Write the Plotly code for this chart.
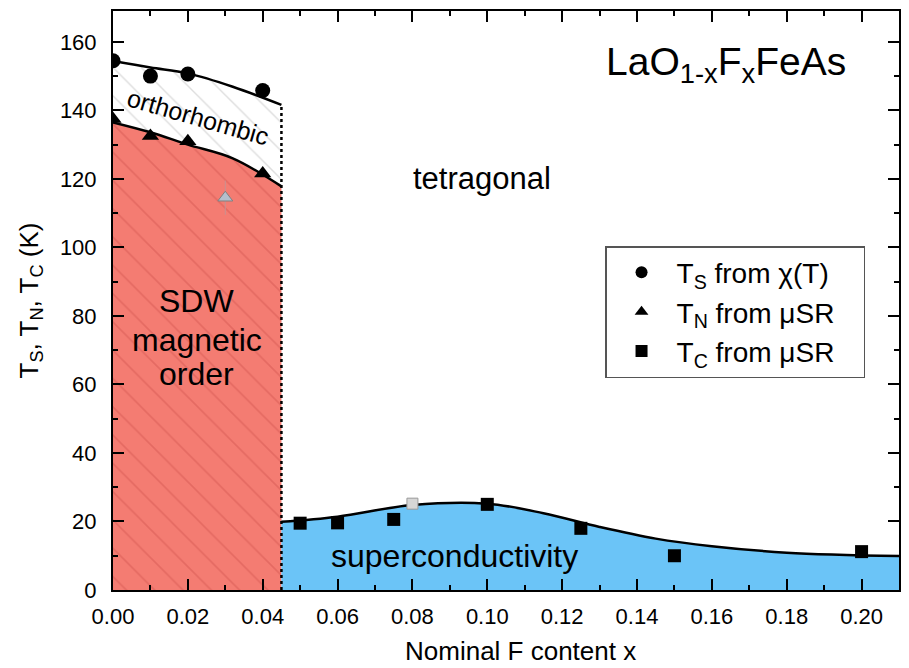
import plotly.graph_objects as go

# ---------------- data ----------------
# Structural transition T_S from chi(T)
ts_x = [0.00, 0.01, 0.02, 0.04]
ts_y = [154.5, 150.0, 150.6, 145.8]
# Magnetic transition T_N from muSR
tn_x = [0.00, 0.01, 0.02, 0.04]
tn_y = [137.5, 132.5, 131.0, 121.6]
# Superconducting T_C from muSR
tc_x = [0.05, 0.06, 0.075, 0.10, 0.125, 0.15, 0.20]
tc_y = [19.5, 19.6, 20.6, 25.0, 18.0, 10.0, 11.2]
# grey (secondary) points
grey_tn_x = [0.03]
grey_tn_y = [114.5]
grey_tn_err = [5.0]
grey_tc_x = [0.08]
grey_tc_y = [25.2]

# phase boundary guide lines
ts_line_x = [0.000, 0.010, 0.020, 0.032, 0.045]
ts_line_y = [154.4, 152.5, 150.8, 146.9, 141.6]
tn_line_x = [0.000, 0.010, 0.020, 0.032, 0.045]
tn_line_y = [136.5, 133.6, 130.0, 126.0, 117.8]
tc_line_x = [0.045, 0.060, 0.080, 0.100, 0.115, 0.130, 0.145, 0.160, 0.180, 0.210]
tc_line_y = [19.9, 21.4, 24.8, 25.2, 22.4, 18.4, 15.0, 12.8, 10.9, 9.9]
boundary_x = 0.045

x_ticks = [0.00, 0.02, 0.04, 0.06, 0.08, 0.10, 0.12, 0.14, 0.16, 0.18, 0.20]
y_ticks = [0, 20, 40, 60, 80, 100, 120, 140, 160]

legend_names = ["T<sub>S</sub> from χ(T)", "T<sub>N</sub> from μSR", "T<sub>C</sub> from μSR"]

RED = "#F47C72"
RED_HATCH = "#D45852"
BLUE = "#6BC4F7"
FONT = "Liberation Sans, Arial, sans-serif"
PAD = "\u00a0" * 3

fig = go.Figure()

# orthorhombic region (white, light grey hatch) under the T_S curve
fig.add_trace(go.Scatter(
    x=ts_line_x, y=ts_line_y, mode="lines", line=dict(color="black", width=2.5, shape="spline"),
    fill="tozeroy", fillcolor="white",
    fillpattern=dict(shape="\\", bgcolor="white", fgcolor="#bdbdbd", size=20, solidity=0.07),
    showlegend=False, hoverinfo="skip"))
# SDW region (red, hatched) under the T_N curve
fig.add_trace(go.Scatter(
    x=tn_line_x, y=tn_line_y, mode="lines", line=dict(color="black", width=2.5, shape="spline"),
    fill="tozeroy", fillcolor=RED,
    fillpattern=dict(shape="\\", bgcolor=RED, fgcolor=RED_HATCH, size=20, solidity=0.08),
    showlegend=False, hoverinfo="skip"))
# superconducting dome
fig.add_trace(go.Scatter(
    x=tc_line_x, y=tc_line_y, mode="lines", line=dict(color="black", width=2.5, shape="spline"),
    fill="tozeroy", fillcolor=BLUE, showlegend=False, hoverinfo="skip"))
# dotted boundary
fig.add_trace(go.Scatter(
    x=[boundary_x, boundary_x], y=[0, ts_line_y[-1]], mode="lines",
    line=dict(color="black", width=2.5, dash="dot"), showlegend=False, hoverinfo="skip"))

# grey points
fig.add_trace(go.Scatter(
    x=grey_tn_x, y=grey_tn_y, mode="markers",
    error_y=dict(type="data", array=grey_tn_err, color="#c89090", thickness=1, width=0),
    marker=dict(symbol="triangle-up", size=13, color="#b4bfcc", line=dict(color="#808080", width=1)),
    showlegend=False, hoverinfo="skip"))
fig.add_trace(go.Scatter(
    x=grey_tc_x, y=grey_tc_y, mode="markers",
    marker=dict(symbol="square", size=11, color="#d6d6d6", line=dict(color="#9a9a9a", width=1)),
    showlegend=False, hoverinfo="skip"))

# main data
fig.add_trace(go.Scatter(
    x=ts_x, y=ts_y, mode="markers", name=legend_names[0] + PAD,
    marker=dict(symbol="circle", size=15, color="black")))
fig.add_trace(go.Scatter(
    x=tn_x, y=tn_y, mode="markers", name=legend_names[1] + PAD,
    marker=dict(symbol="triangle-up", size=15, color="black")))
fig.add_trace(go.Scatter(
    x=tc_x, y=tc_y, mode="markers", name=legend_names[2] + PAD,
    marker=dict(symbol="square", size=13, color="black")))

# text labels
fig.add_annotation(x=0.0227, y=138.0, text="orthorhombic", showarrow=False, textangle=16,
                   font=dict(size=25, color="black", family=FONT))
for txt, yy in [("SDW", 84.3), ("magnetic", 73.0), ("order", 63.0)]:
    fig.add_annotation(x=0.0224, y=yy, text=txt, showarrow=False,
                       font=dict(size=32, color="black", family=FONT))
fig.add_annotation(x=0.0985, y=120.0, text="tetragonal", showarrow=False,
                   font=dict(size=31, color="black", family=FONT))
fig.add_annotation(x=0.0913, y=10.0, text="superconductivity", showarrow=False,
                   font=dict(size=32, color="black", family=FONT))
fig.add_annotation(x=0.1637, y=153.5, text="LaO<sub>1-x</sub>F<sub>x</sub>FeAs", showarrow=False,
                   font=dict(size=39, color="black", family=FONT))
# x-axis title (placed slightly right of centre as in the original)
fig.add_annotation(xref="paper", yref="paper", x=0.519, y=-0.105, yanchor="middle",
                   text="Nominal F content x", showarrow=False,
                   font=dict(size=26, color="black", family=FONT))

axis_common = dict(showline=True, linecolor="black", linewidth=2, mirror="ticks",
                   ticks="inside", tickcolor="black", tickwidth=2, ticklen=11,
                   showgrid=False, zeroline=False,
                   tickfont=dict(size=22, color="black", family=FONT))

fig.update_xaxes(range=[0, 0.21], tickvals=x_ticks, tickformat=".2f", ticklabelstandoff=6,
                 minor=dict(ticks="inside", ticklen=5, tickwidth=2, tickcolor="black", dtick=0.01, tick0=0),
                 **axis_common)
fig.update_yaxes(range=[0, 169], tickvals=y_ticks, ticklabelstandoff=10,
                 minor=dict(ticks="inside", ticklen=5, tickwidth=2, tickcolor="black", dtick=10, tick0=0),
                 title=dict(text="T<sub>S</sub>, T<sub>N</sub>, T<sub>C</sub> (K)", font=dict(size=26, color="black", family=FONT), standoff=14),
                 **axis_common)

# the page body has an 8px default margin; offset the margins to compensate
fig.update_layout(
    width=909, height=668,
    margin=dict(l=105, r=18, t=1, b=86),
    paper_bgcolor="white", plot_bgcolor="white",
    font=dict(family=FONT, color="black"),
    legend=dict(x=0.626, y=0.594, xanchor="left", yanchor="top",
                bgcolor="white", bordercolor="#555555", borderwidth=1.5,
                font=dict(size=28, color="black", family=FONT),
                itemsizing="constant", itemwidth=60, tracegroupgap=0),
)

fig.write_html("out.html")
